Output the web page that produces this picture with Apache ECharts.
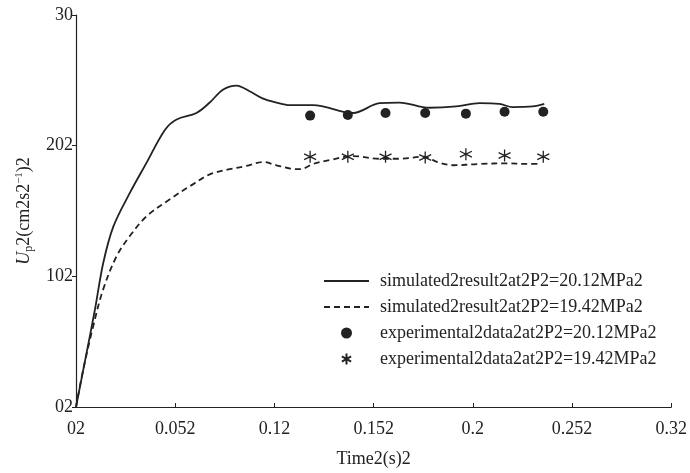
<!DOCTYPE html>
<html>
<head>
<meta charset="utf-8">
<script src="https://cdn.jsdelivr.net/npm/echarts@6/dist/echarts.min.js"></script>
<style>html,body{margin:0;padding:0;background:#fff;}#c{width:690px;height:473px;}</style>
</head>
<body>
<div id="c"></div>
<script>
var xTickLabels = {0:'02',0.05:'0.052',0.1:'0.12',0.15:'0.152',0.2:'0.2',0.25:'0.252',0.3:'0.32'};
var yTickLabels = {0:'02',10:'102',20:'202',30:'30'};

var sim1T = [0,0.0054,0.0096,0.0137,0.0188,0.0272,0.0356,0.0448,0.0507,0.0607,0.0674,0.0742,0.0809,0.0877,0.0943,0.101,0.1077,0.1195,0.1396,0.153,0.163,0.178,0.1916,0.2034,0.2134,0.22,0.2302,0.236];
var sim1V = [0,4.2,7.5,11.0,13.8,16.4,18.7,21.2,22.0,22.5,23.3,24.3,24.6,24.15,23.6,23.3,23.1,23.1,22.5,23.25,23.3,22.9,23.0,23.25,23.2,22.95,23.0,23.2];

var sim2T = [0,0.0037,0.0087,0.0137,0.0205,0.0272,0.0356,0.0473,0.0574,0.0674,0.0775,0.0859,0.0943,0.101,0.108,0.113,0.1195,0.128,0.1396,0.153,0.163,0.1748,0.183,0.19,0.2034,0.2168,0.2269,0.2336];
var sim2V = [0,2.9,6.2,9.0,11.55,13.1,14.6,15.9,16.9,17.8,18.2,18.45,18.75,18.5,18.25,18.2,18.6,18.9,19.2,19.0,19.0,19.15,18.7,18.5,18.6,18.65,18.6,18.6];

var expT = [0.118,0.137,0.156,0.176,0.1965,0.216,0.2355];
var exp1V = [22.3,22.35,22.5,22.5,22.45,22.6,22.6];
var exp2V = [19.15,19.15,19.15,19.1,19.35,19.25,19.15];

var names = ['simulated2result2at2P2=20.12MPa2','simulated2result2at2P2=19.42MPa2','experimental2data2at2P2=20.12MPa2','experimental2data2at2P2=19.42MPa2'];

function zip(a,b){return a.map(function(v,i){return [v,b[i]];});}

var FONT = '"Liberation Serif", "Times New Roman", serif';
var INK = '#222';
var starPath = 'path://M5,0L5,10M0.8,2.6L9.2,7.4M0.8,7.4L9.2,2.6';

var chart = echarts.init(document.getElementById('c'), null, {renderer:'canvas'});
chart.setOption({
  animation:false,
  backgroundColor:'#fff',
  grid:{left:76,right:18,top:15,bottom:65,containLabel:false},
  legend:{
    orient:'vertical', left:318, top:267, itemWidth:45, itemHeight:11, itemGap:8,
    textStyle:{fontFamily:FONT,fontSize:18,color:INK,padding:[0,0,0,6]},
    data:[
      {name:names[0],itemStyle:{opacity:0}},
      {name:names[1],itemStyle:{opacity:0}},
      {name:names[2]},
      {name:names[3]}
    ]
  },
  xAxis:{
    type:'value', min:0, max:0.3, interval:0.05,
    name:'Time2(s)2', nameLocation:'middle', nameGap:43,
    nameTextStyle:{fontFamily:FONT,fontSize:18,color:INK},
    axisLine:{lineStyle:{color:INK,width:1.2}},
    axisTick:{inside:true,length:4,lineStyle:{color:INK}},
    axisLabel:{fontFamily:FONT,fontSize:18,color:INK,margin:13,
      formatter:function(v){var k=Math.round(v*100)/100;return xTickLabels[k]!==undefined?xTickLabels[k]:'';}},
    splitLine:{show:false}
  },
  yAxis:{
    type:'value', min:0, max:30, interval:10,
    name:'{i|U}{sub|p}2(cm2s2{sup|−1})2', nameLocation:'middle', nameGap:40,
    nameTextStyle:{fontFamily:FONT,fontSize:18,color:INK,
      rich:{
        i:{fontFamily:FONT,fontSize:18,fontStyle:'italic',color:INK},
        sub:{fontFamily:FONT,fontSize:12,color:INK,padding:[10,0,0,0]},
        sup:{fontFamily:FONT,fontSize:11,color:INK,padding:[0,0,10,0]}
      }},
    axisLine:{show:true,lineStyle:{color:INK,width:1.2}},
    axisTick:{show:true,inside:false,length:4,lineStyle:{color:INK}},
    axisLabel:{fontFamily:FONT,fontSize:18,color:INK,margin:3,
      formatter:function(v){return yTickLabels[v]!==undefined?yTickLabels[v]:'';}},
    splitLine:{show:false}
  },
  series:[
    {name:names[0],type:'line',data:zip(sim1T,sim1V),smooth:0.35,symbol:'none',
     lineStyle:{color:INK,width:1.8,type:'solid'},itemStyle:{color:INK}},
    {name:names[1],type:'line',data:zip(sim2T,sim2V),smooth:0.35,symbol:'none',
     lineStyle:{color:INK,width:1.8,type:[6,4]},itemStyle:{color:INK}},
    {name:names[2],type:'scatter',data:zip(expT,exp1V),symbol:'circle',symbolSize:10,
     itemStyle:{color:INK,opacity:1}},
    {name:names[3],type:'scatter',data:zip(expT,exp2V),symbol:starPath,symbolSize:12,
     itemStyle:{color:'rgba(0,0,0,0)',borderColor:INK,borderWidth:1.3,opacity:1}}
  ]
});
</script>
</body>
</html>
